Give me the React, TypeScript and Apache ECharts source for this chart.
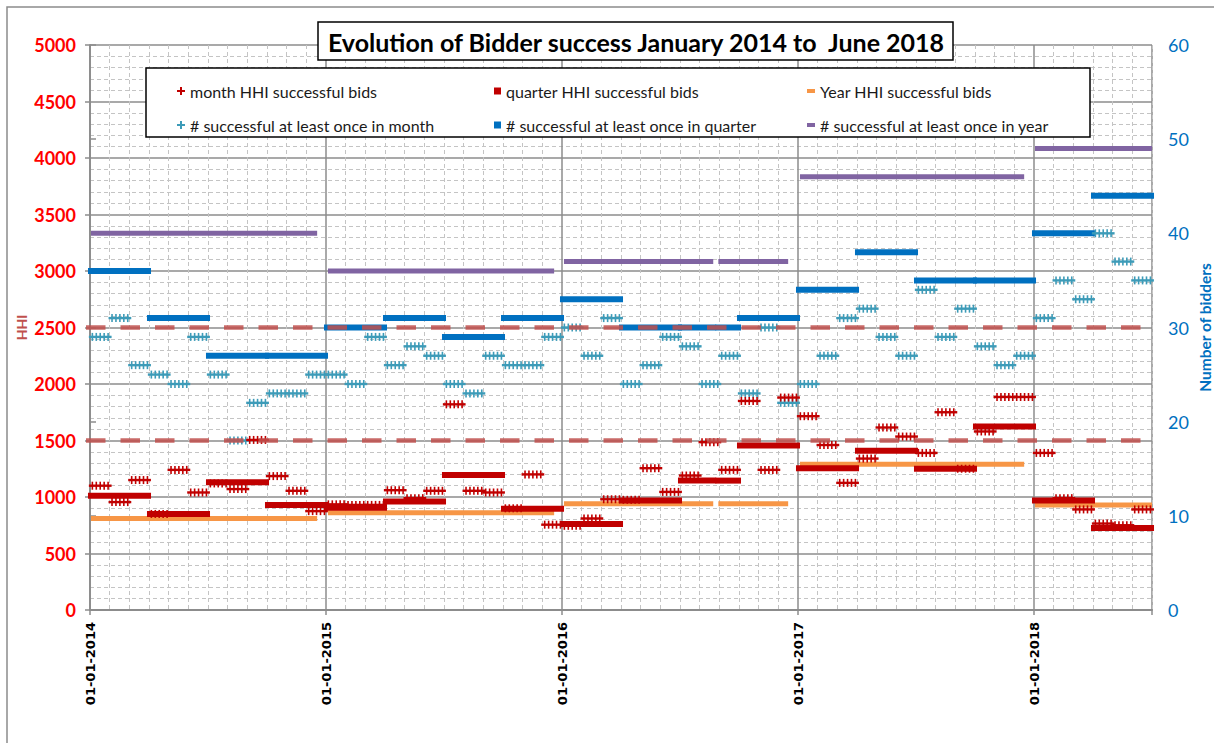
import React, { useEffect, useRef } from 'react';
import * as echarts from 'echarts';

// x axis unit: months counted from 1 January 2014 (0) to 1 July 2018 (54)
const X_MIN = 0;
const X_MAX = 54;
const yearTickLabels = ['01-01-2014', '01-01-2015', '01-01-2016', '01-01-2017', '01-01-2018'];

// Monthly HHI of successful bids, Jan 2014 .. Jun 2018
const monthHHI = [
  1100, 955, 1150, 850, 1240, 1040, 1120, 1070, 1505, 1185, 1055, 875,
  935, 930, 930, 1060, 990, 1055, 1820, 1055, 1040, 900, 1200, 755,
  745, 810, 980, 975, 1255, 1045, 1190, 1485, 1240, 1850, 1240, 1880,
  1715, 1460, 1125, 1340, 1615, 1535, 1390, 1750, 1250, 1580, 1885, 1885,
  1390, 990, 890, 765, 750, 890,
];
// Number of bidders successful at least once in the month
const monthBidders = [
  29, 31, 26, 25, 24, 29, 25, 18, 22, 23, 23, 25,
  25, 24, 29, 26, 28, 27, 24, 23, 27, 26, 26, 29,
  30, 27, 31, 24, 26, 29, 28, 24, 27, 23, 30, 22,
  24, 27, 31, 32, 29, 27, 34, 29, 32, 28, 26, 27,
  31, 35, 33, 40, 37, 35,
];
// Quarterly values, Q1 2014 .. Q2 2018
const quarterHHI = [1010, 850, 1130, 930, 905, 960, 1195, 895, 760, 970, 1145, 1455, 1255, 1410, 1250, 1625, 970, 725];
const quarterBidders = [36, 31, 27, 27, 30, 31, 29, 31, 33, 30, 30, 31, 34, 38, 35, 35, 40, 44];
// Yearly values 2014 .. 2018 (2018 = first half)
const yearHHI = [810, 860, 940, 1290, 930];
const yearBidders = [40, 36, 37, 46, 49];
// first and last auction of each year (in months from Jan 2014)
const yearFirstAuction = [0.05, 12.1, 24.1, 36.1, 48.05];
const yearLastAuction = [11.55, 23.6, 35.5, 47.5, 54];
// period without data in August 2016
const dataGap = [31.69, 31.95];
// HHI thresholds
const hhiThresholds = [1500, 2500];

const C_RED = '#c00000';
const C_TEAL = '#3d9bb8';
const C_BLUE = '#0070c0';
const C_ORANGE = '#f79646';
const C_PURPLE = '#8064a2';

const FONT = 'Lato, "Noto Sans", sans-serif';

function splitAtGap(a: number, b: number): number[][] {
  if (b <= dataGap[0] || a >= dataGap[1]) return [[a, b]];
  const out: number[][] = [];
  if (a < dataGap[0]) out.push([a, dataGap[0]]);
  if (b > dataGap[1]) out.push([dataGap[1], b]);
  return out;
}

const barRender = (color: string, width: number, cap: string) => (params: any, api: any) => {
  const a = api.value(0), b = api.value(1), v = api.value(2);
  const children = splitAtGap(a, b).map(([s, e]) => {
    const p0 = api.coord([s, v]);
    const p1 = api.coord([e, v]);
    return {
      type: 'line',
      shape: { x1: p0[0], y1: p0[1], x2: p1[0], y2: p1[1] },
      style: { stroke: color, lineWidth: width, lineCap: cap },
    };
  });
  return { type: 'group', children };
};

const plusRender = (color: string) => (params: any, api: any) => {
  const a = api.value(0), b = api.value(1), v = api.value(2);
  const p0 = api.coord([a, v]);
  const p1 = api.coord([b, v]);
  const y = p0[1];
  const children: any[] = [
    { type: 'line', shape: { x1: p0[0] - 3.5, y1: y, x2: p1[0] + 3.5, y2: y }, style: { stroke: color, lineWidth: 2.4 } },
  ];
  const n = Math.max(2, Math.round((p1[0] - p0[0]) / 3.6));
  for (let i = 0; i <= n; i++) {
    const x = p0[0] + ((p1[0] - p0[0]) * i) / n;
    children.push({ type: 'line', shape: { x1: x, y1: y - 4, x2: x, y2: y + 4 }, style: { stroke: color, lineWidth: 1.6 } });
  }
  return { type: 'group', children };
};

const dashRender = (params: any, api: any) => {
  const v = api.value(2);
  const p0 = api.coord([api.value(0), v]);
  const p1 = api.coord([api.value(1), v]);
  return {
    type: 'line',
    shape: { x1: p0[0] - 4, y1: p0[1], x2: p1[0] + 2, y2: p1[1] },
    style: { stroke: 'rgba(192,80,77,0.85)', lineWidth: 4.5, lineDash: [19.5, 15] },
  };
};

function buildOption(): any {
  const monthData = (vals: number[]) => vals.map((v, i) => [i + 0.12, i + 0.92, v]);
  const quarterData = (vals: number[]) => vals.map((v, i) => [i * 3 + 0.05, i * 3 + 2.95, v]);
  const yearData = (vals: number[]) => vals.map((v, i) => [yearFirstAuction[i], yearLastAuction[i], v]);

  const custom = (name: string, yIdx: number, color: string, data: number[][], render: any, z: number) => ({
    name,
    type: 'custom',
    xAxisIndex: 0,
    yAxisIndex: yIdx,
    itemStyle: { color },
    encode: { x: [0, 1], y: 2 },
    renderItem: render,
    data,
    clip: false,
    z,
    silent: true,
  });

  const minorColors = Array.from({ length: 12 }, (_, i) => (i === 0 ? 'rgba(0,0,0,0)' : '#c4c4c4'));
  const plusIcon = 'path://M3,0H5V3H8V5H5V8H3V5H0V3H3Z';
  const legendText = { fontSize: 16, fontFamily: FONT, color: '#1a1a1a', lineHeight: 18 };

  return {
    animation: false,
    backgroundColor: '#ffffff',
    textStyle: { fontFamily: FONT },
    grid: { left: 90, top: 45, width: 1062, height: 565, containLabel: false, outerBoundsMode: 'none' },
    xAxis: [
      {
        type: 'value', min: X_MIN, max: X_MAX, interval: 12, position: 'bottom',
        axisLine: { show: true, lineStyle: { color: '#8c8c8c', width: 2 } },
        axisTick: { show: true, length: 5, lineStyle: { color: '#8c8c8c', width: 1.5 } },
        axisLabel: {
          rotate: 90, margin: 12, color: '#000', fontFamily: '"DejaVu Sans", sans-serif', fontSize: 13, fontWeight: 'bold',
          formatter: (v: number) => (v % 12 === 0 ? yearTickLabels[v / 12] || '' : ''),
        },
        splitLine: { show: true, lineStyle: { color: '#8c8c8c', width: 1.5 } },
      },
      {
        type: 'value', min: X_MIN, max: X_MAX, interval: 1, position: 'top',
        axisLine: { show: false }, axisTick: { show: false }, axisLabel: { show: false },
        splitLine: { show: true, lineStyle: { color: minorColors, width: 1, type: [4, 3] } },
      },
    ],
    yAxis: [
      {
        type: 'value', min: 0, max: 5000, interval: 500, position: 'left',
        name: 'HHI', nameLocation: 'middle', nameGap: 62, nameRotate: 90, nameMoveOverlap: false,
        nameTextStyle: { color: '#c0504d', fontSize: 14, fontWeight: 'bold', fontFamily: FONT },
        axisLine: { show: true, lineStyle: { color: '#8c8c8c', width: 1.5 } },
        axisTick: { show: true, length: 5, lineStyle: { color: '#8c8c8c', width: 1.5 } },
        axisLabel: { color: '#ff0000', fontSize: 18, fontWeight: 'bold', margin: 14, fontFamily: FONT, formatter: (v: number) => String(v) },
        splitLine: { show: true, lineStyle: { color: '#8c8c8c', width: 1.5 } },
        minorTick: { show: false, splitNumber: 5 },
        minorSplitLine: { show: true, lineStyle: { color: '#c4c4c4', width: 1, type: [4, 3] } },
      },
      {
        type: 'value', min: 0, max: 60, interval: 10, position: 'right',
        name: 'Number of bidders', nameLocation: 'middle', nameGap: 45, nameRotate: 90, nameMoveOverlap: false,
        nameTextStyle: { color: C_BLUE, fontSize: 15.5, fontWeight: 'bold', fontFamily: FONT },
        axisLine: { show: true, lineStyle: { color: '#8c8c8c', width: 1.5 } },
        axisTick: { show: true, length: 6, lineStyle: { color: '#8c8c8c', width: 1.5 } },
        axisLabel: { color: C_BLUE, fontSize: 18, margin: 16, fontFamily: FONT, formatter: (v: number) => String(v) },
        splitLine: { show: false },
      },
    ],
    legend: [
      {
        z: 20, left: 172, top: 77, orient: 'vertical', itemWidth: 8, itemHeight: 8, itemGap: 16,
        selectedMode: false, textStyle: legendText,
        data: [
          { name: 'month HHI successful bids', icon: plusIcon },
          { name: '# successful at least once in month', icon: plusIcon },
        ],
      },
      {
        z: 20, left: 489, top: 77, orient: 'vertical', itemWidth: 7, itemHeight: 7, itemGap: 16,
        selectedMode: false, textStyle: legendText,
        data: [
          { name: 'quarter HHI successful bids', icon: 'rect' },
          { name: '# successful at least once in quarter', icon: 'rect' },
        ],
      },
      {
        z: 20, left: 802, top: 77, orient: 'vertical', itemWidth: 8, itemHeight: 4, itemGap: 16,
        selectedMode: false, textStyle: legendText,
        data: [
          { name: 'Year HHI successful bids', icon: 'rect' },
          { name: '# successful at least once in year', icon: 'rect' },
        ],
      },
    ],
    graphic: [
      { type: 'rect', z: 1, silent: true, shape: { x: 7, y: 7, width: 1230, height: 760 }, style: { fill: 'none', stroke: '#8c8c8c', lineWidth: 1.5 } },
      { type: 'rect', z: 10, silent: true, shape: { x: 146, y: 68, width: 944, height: 69 }, style: { fill: '#ffffff', stroke: '#000000', lineWidth: 1.5 } },
      { type: 'rect', z: 10, silent: true, shape: { x: 318, y: 22, width: 635, height: 38 }, style: { fill: '#ffffff', stroke: '#000000', lineWidth: 1.5 } },
      {
        type: 'text', z: 11, silent: true, x: 636, y: 42,
        style: { text: 'Evolution of Bidder success January 2014 to  June 2018', fill: '#000', font: `bold 25px ${FONT}`, textAlign: 'center', textVerticalAlign: 'middle' },
      },
    ],
    series: [
      custom('# successful at least once in year', 1, C_PURPLE, yearData(yearBidders), barRender(C_PURPLE, 5, 'butt'), 2),
      custom('Year HHI successful bids', 0, C_ORANGE, yearData(yearHHI), barRender(C_ORANGE, 5, 'butt'), 2),
      custom('# successful at least once in quarter', 1, C_BLUE, quarterData(quarterBidders), barRender(C_BLUE, 6, 'square'), 3),
      custom('quarter HHI successful bids', 0, C_RED, quarterData(quarterHHI), barRender(C_RED, 6, 'square'), 3),
      custom('# successful at least once in month', 1, C_TEAL, monthData(monthBidders), plusRender(C_TEAL), 4),
      custom('month HHI successful bids', 0, C_RED, monthData(monthHHI), plusRender(C_RED), 4),
      {
        name: 'thresholds', type: 'custom', xAxisIndex: 0, yAxisIndex: 0, encode: { x: [0, 1], y: 2 },
        renderItem: dashRender, data: hhiThresholds.map((v) => [X_MIN, X_MAX, v]), clip: false, z: 5, silent: true,
      },
    ],
  };
}

export default function App() {
  const ref = useRef<HTMLDivElement>(null);
  useEffect(() => {
    const chart = echarts.init(ref.current as HTMLDivElement, null, { renderer: 'svg' });
    chart.setOption(buildOption());
    return () => chart.dispose();
  }, []);
  return (
    <div
      ref={ref}
      style={{ position: 'fixed', left: 0, top: 0, width: 1214, height: 743, background: '#ffffff' }}
    />
  );
}
